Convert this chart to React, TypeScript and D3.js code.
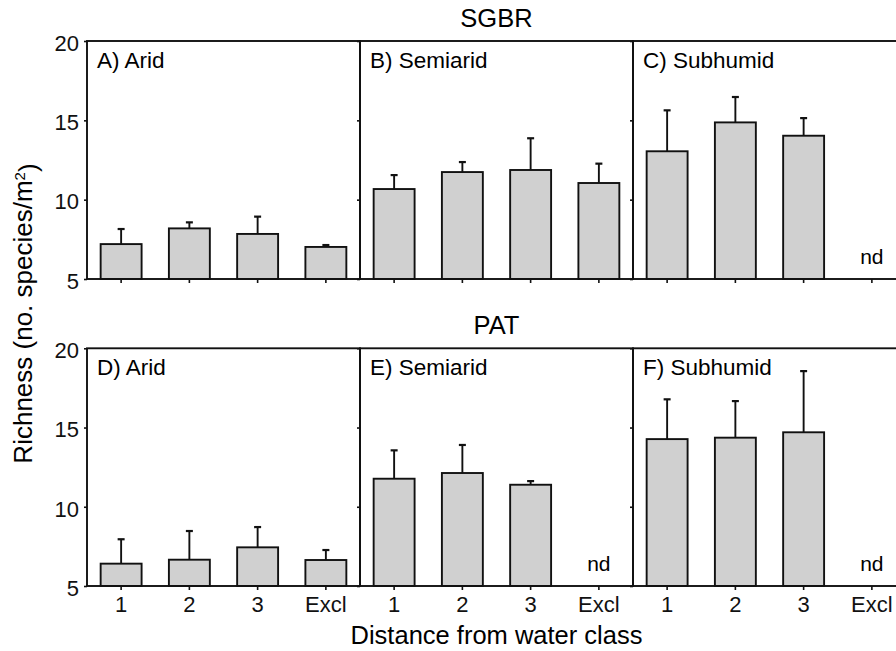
import * as d3 from 'd3'
import { useEffect, useRef } from 'react'

const classes = ['1', '2', '3', 'Excl']
const zones = ['Arid', 'Semiarid', 'Subhumid']
const regions = ['SGBR', 'PAT']
const letters = [['A', 'B', 'C'], ['D', 'E', 'F']]

// mean richness per zone (rows) and distance class (cols); null = no data
const sgbrMean = [
    [7.2, 8.19, 7.84, 7.02],
    [10.67, 11.74, 11.87, 11.05],
    [13.05, 14.87, 14.03, null],
]
const sgbrSE = [
    [0.95, 0.38, 1.09, 0.12],
    [0.88, 0.63, 2.0, 1.22],
    [2.58, 1.6, 1.11, null],
]
const patMean = [
    [6.41, 6.66, 7.44, 6.64],
    [11.77, 12.13, 11.39, null],
    [14.27, 14.36, 14.7, null],
]
const patSE = [
    [1.54, 1.81, 1.28, 0.63],
    [1.79, 1.77, 0.23, null],
    [2.51, 2.31, 3.86, null],
]
const yTicks = [5, 10, 15, 20]

export default function App() {
    const svgRef = useRef(null)
    const width = 896, height = 651
    const left = 87, panelW = 273
    const rows = [{ top: 41, bottom: 279 }, { top: 348.3, bottom: 586 }]
    const font = '"Liberation Sans", Arial, Helvetica, sans-serif'

    useEffect(() => {
        const svg = d3.select(svgRef.current)
        svg.selectAll('*').remove()
        svg.attr('width', width).attr('height', height)
            .style('font-family', font)

        const means = [sgbrMean, patMean]
        const ses = [sgbrSE, patSE]

        rows.forEach((row, r) => {
            const yScale = d3.scaleLinear().domain([5, 20]).range([row.bottom, row.top])
            const g = svg.append('g')

            // region title
            g.append('text')
                .attr('x', left + panelW * 1.5)
                .attr('y', row.top - 14.5)
                .attr('text-anchor', 'middle')
                .style('font-size', '25.5px')
                .text(regions[r])

            zones.forEach((zone, z) => {
                const x0 = left + z * panelW
                const xScale = d3.scaleBand().domain(classes)
                    .range([x0, x0 + panelW])
                    .paddingInner(0.4).paddingOuter(0.2)
                const p = g.append('g')

                const data = classes.map((c, i) => ({ c, m: means[r][z][i], se: ses[r][z][i] }))

                // bars
                p.selectAll('rect.bar')
                    .data(data.filter(d => d.m != null))
                    .join('rect')
                        .attr('class', 'bar')
                        .attr('x', d => xScale(d.c))
                        .attr('y', d => yScale(d.m))
                        .attr('width', xScale.bandwidth())
                        .attr('height', d => yScale(5) - yScale(d.m))
                        .attr('fill', '#d0d0d0')
                        .attr('stroke', '#111')
                        .attr('stroke-width', 1.9)

                // error bars (upper only)
                const eb = p.selectAll('g.err')
                    .data(data.filter(d => d.m != null))
                    .join('g')
                    .attr('class', 'err')
                eb.append('line')
                    .attr('x1', d => xScale(d.c) + xScale.bandwidth() / 2)
                    .attr('x2', d => xScale(d.c) + xScale.bandwidth() / 2)
                    .attr('y1', d => yScale(d.m))
                    .attr('y2', d => yScale(d.m + d.se))
                    .attr('stroke', '#111').attr('stroke-width', 1.9)
                eb.append('line')
                    .attr('x1', d => xScale(d.c) + xScale.bandwidth() / 2 - 3.5)
                    .attr('x2', d => xScale(d.c) + xScale.bandwidth() / 2 + 3.5)
                    .attr('y1', d => yScale(d.m + d.se))
                    .attr('y2', d => yScale(d.m + d.se))
                    .attr('stroke', '#111').attr('stroke-width', 2.2)

                // nd labels
                p.selectAll('text.nd')
                    .data(data.filter(d => d.m == null))
                    .join('text')
                        .attr('class', 'nd')
                        .attr('x', d => xScale(d.c) + xScale.bandwidth() / 2)
                        .attr('y', yScale(5) - 15)
                        .attr('text-anchor', 'middle')
                        .style('font-size', '21px')
                        .text('nd')

                // panel frame
                p.append('rect')
                    .attr('x', x0).attr('y', row.top)
                    .attr('width', panelW).attr('height', row.bottom - row.top)
                    .attr('fill', 'none')
                    .attr('stroke', '#111').attr('stroke-width', 1.9)

                // x axis ticks
                const xAxis = d3.axisBottom(xScale).tickSize(4).tickPadding(6)
                    .tickFormat(r === 1 ? (d => d) : () => '')
                p.append('g')
                    .attr('transform', `translate(0, ${row.bottom})`)
                    .call(xAxis)
                    .call(a => a.select('.domain').remove())
                    .call(a => a.selectAll('.tick line').attr('stroke', '#111').attr('stroke-width', 1.6))
                    .call(a => a.selectAll('.tick text')
                        .attr('fill', '#111')
                        .style('font-size', '22px')
                        .style('font-family', font))

                // y axis ticks
                const yAxis = d3.axisLeft(yScale).tickValues(yTicks).tickSize(3).tickPadding(5)
                    .tickFormat(z === 0 ? d3.format('d') : () => '')
                p.append('g')
                    .attr('transform', `translate(${x0}, 0)`)
                    .call(yAxis)
                    .call(a => a.select('.domain').remove())
                    .call(a => a.selectAll('.tick line').attr('stroke', '#111').attr('stroke-width', 1.6))
                    .call(a => a.selectAll('.tick text')
                        .attr('fill', '#111')
                        .attr('dy', '0.42em')
                        .style('font-size', '22px')
                        .style('font-family', font))

                // panel label
                p.append('text')
                    .attr('x', x0 + 10)
                    .attr('y', row.top + 27)
                    .style('font-size', '22.5px')
                    .text(`${letters[r][z]}) ${zone}`)
            })
        })

        // axis titles
        svg.append('text')
            .attr('x', left + panelW * 1.5)
            .attr('y', 644)
            .attr('text-anchor', 'middle')
            .style('font-size', '25.5px')
            .text('Distance from water class')

        const yl = svg.append('text')
            .attr('transform', `translate(32, ${(rows[0].top + rows[1].bottom) / 2}) rotate(-90)`)
            .attr('text-anchor', 'middle')
            .style('font-size', '26px')
        yl.append('tspan').text('Richness (no. species/m')
        yl.append('tspan').attr('dy', '-0.45em').style('font-size', '15px').text('2')
        yl.append('tspan').attr('dy', '0.45em').text(')')
    }, [])

    return (
        <div style={{ position: 'absolute', left: 0, top: 0, width, height, background: '#fff' }}>
            <svg ref={svgRef} style={{ display: 'block' }} />
        </div>
    )
}
